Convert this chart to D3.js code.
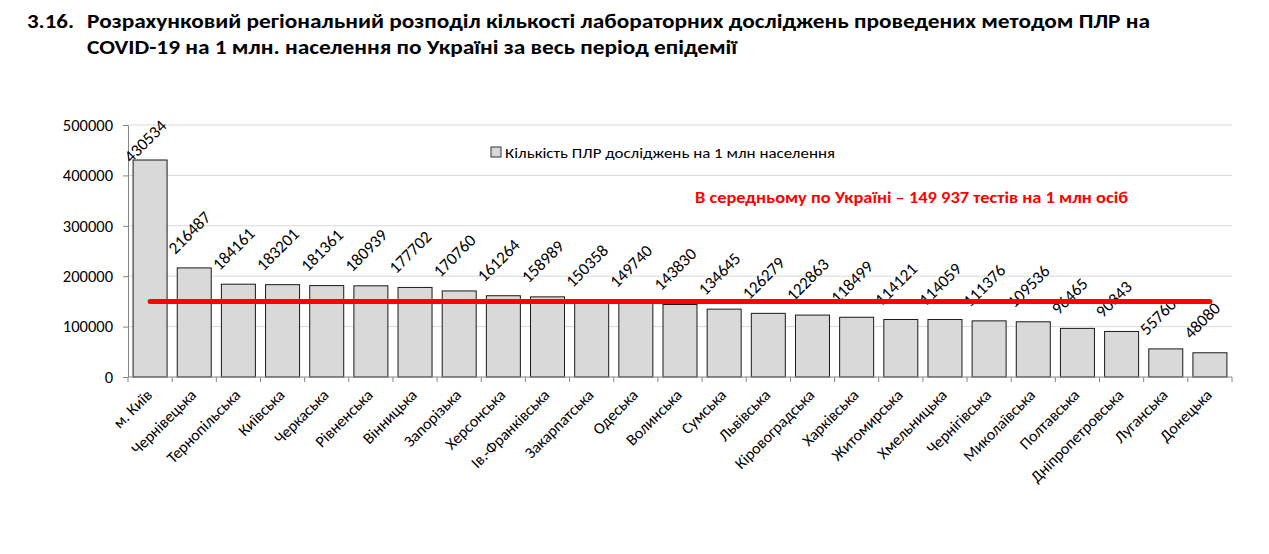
<!DOCTYPE html>
<html>
<head>
<meta charset="utf-8">
<script src="https://cdn.jsdelivr.net/npm/d3@7"></script>
<style>
  body { margin: 0; background: #fff; }
  text { font-family: Carlito, Roboto, "Liberation Sans", sans-serif; }
  .axis path, .axis line { stroke: #868686; }
  .axis text { fill: #000; }
</style>
</head>
<body>
<svg id="chart"></svg>
<script>
// Regions, ordered as in the source chart
const regions = ['м. Київ', 'Чернівецька', 'Тернопільська', 'Київська', 'Черкаська', 'Рівненська',
  'Вінницька', 'Запорізька', 'Херсонська', 'Ів.-Франківська', 'Закарпатська', 'Одеська', 'Волинська',
  'Сумська', 'Львівська', 'Кіровоградська', 'Харківська', 'Житомирська', 'Хмельницька', 'Чернігівська',
  'Миколаївська', 'Полтавська', 'Дніпропетровська', 'Луганська', 'Донецька'];

// PCR tests per 1 mln population
const testsPerMln = [430534, 216487, 184161, 183201, 181361, 180939, 177702, 170760, 161264, 158989,
  150358, 149740, 143830, 134645, 126279, 122863, 118499, 114121, 114059, 111376, 109536, 96465,
  90343, 55760, 48080];

const ukraineAverage = 149937;
const yTicks = [0, 100000, 200000, 300000, 400000, 500000];

const titleLines = ['Розрахунковий регіональний розподіл кількості лабораторних досліджень проведених методом ПЛР на',
  'COVID-19 на 1 млн. населення по Україні за весь період епідемії'];
const legendLabel = 'Кількість ПЛР досліджень на 1 млн населення';
const averageLabel = 'В середньому по Україні – 149 937 тестів на 1 млн осіб';

const config = {
  width: 1269,
  height: 554,
  margin: {top: 125, right: 37, bottom: 177, left: 128}
};

// Stretch a horizontal text to a given width (source text is rendered wide)
function fitWidth(sel, w) {
  sel.attr('textLength', w).attr('lengthAdjust', 'spacingAndGlyphs');
}

const svg = d3.select('#chart')
    .attr('width', config.width)
    .attr('height', config.height);

const width = config.width - config.margin.left - config.margin.right;
const height = config.height - config.margin.top - config.margin.bottom;

// Title
svg.append('text')
    .attr('x', 27).attr('y', 28)
    .attr('font-size', 20).attr('font-weight', 'bold').attr('fill', '#000')
    .text('3.16.')
    .call(fitWidth, 47);
const titleWidths = [1063, 650];
titleLines.forEach((t, i) => {
  svg.append('text')
      .attr('x', 87).attr('y', 28 + i * 26)
      .attr('font-size', 20).attr('font-weight', 'bold').attr('fill', '#000')
      .text(t)
      .call(fitWidth, titleWidths[i]);
});

const chart = svg.append('g')
    .attr('transform', `translate(${config.margin.left},${config.margin.top})`);

// Scales
const xScale = d3.scaleBand()
    .domain(regions)
    .range([0, width])
    .paddingInner(0.23)
    .paddingOuter(0.115);

const xCat = d3.scaleBand()
    .domain(regions)
    .range([0, width]);

const yScale = d3.scaleLinear()
    .domain([0, 500000])
    .range([height, 0]);

// Gridlines
chart.append('g')
    .selectAll('line')
    .data(yTicks.slice(1))
    .join('line')
    .attr('x1', 0).attr('x2', width)
    .attr('y1', d => yScale(d)).attr('y2', d => yScale(d))
    .attr('stroke', '#d9d9d9').attr('stroke-width', 1);

// Bars
chart.append('g')
    .selectAll('rect')
    .data(testsPerMln)
    .join('rect')
    .attr('x', (d, i) => xScale(regions[i]))
    .attr('y', d => yScale(d))
    .attr('width', xScale.bandwidth())
    .attr('height', d => height - yScale(d))
    .attr('fill', '#d9d9d9')
    .attr('stroke', '#1a1a1a')
    .attr('stroke-width', 1);

// Y axis
const yAxis = d3.axisLeft(yScale)
    .tickValues(yTicks)
    .tickFormat(d3.format('d'))
    .tickSize(5)
    .tickPadding(10)
    .tickSizeOuter(0);
chart.append('g')
    .attr('class', 'axis y-axis')
    .call(yAxis)
    .selectAll('text')
    .attr('font-size', 16.5);

// X axis: ticks at category boundaries, labels rotated
const xAxisG = chart.append('g')
    .attr('class', 'axis x-axis')
    .attr('transform', `translate(0,${height})`);
xAxisG.append('line')
    .attr('x1', 0).attr('x2', width)
    .attr('stroke', '#868686');
xAxisG.selectAll('.bound')
    .data(regions.concat(['end']))
    .join('line')
    .attr('class', 'bound')
    .attr('x1', (d, i) => i * xCat.step()).attr('x2', (d, i) => i * xCat.step())
    .attr('y1', 0).attr('y2', 5)
    .attr('stroke', '#868686');
xAxisG.selectAll('.cat-label')
    .data(regions)
    .join('text')
    .attr('class', 'cat-label')
    .attr('transform', d => `translate(${xCat(d) + xCat.bandwidth() / 2 + 3},${19}) rotate(-45)`)
    .attr('text-anchor', 'end')
    .attr('font-size', 16)
    .text(d => d);

// Value labels, rotated; kept inside the plot area
chart.append('g')
    .selectAll('text')
    .data(testsPerMln)
    .join('text')
    .attr('font-size', 17)
    .attr('fill', '#000')
    .text(d => d)
    .each(function(d, i) {
      const len = this.getComputedTextLength();
      const cx = xScale(regions[i]) + xScale.bandwidth() / 2;
      let y = yScale(d) - 13;
      const minY = len * Math.SQRT1_2 + 2;
      if (y < minY) y = minY;
      d3.select(this).attr('transform', `translate(${cx - 19},${y}) rotate(-45)`);
    });

// Average line across category centers
const avgLine = d3.line()
    .x(d => xCat(d) + xCat.bandwidth() / 2)
    .y(() => yScale(ukraineAverage));
chart.append('path')
    .datum(regions)
    .attr('d', avgLine)
    .attr('fill', 'none')
    .attr('stroke', '#ff0000')
    .attr('stroke-width', 5)
    .attr('stroke-linecap', 'round');

chart.append('text')
    .attr('x', 567).attr('y', 78)
    .attr('font-size', 16).attr('font-weight', 'bold')
    .attr('fill', '#ff0000')
    .text(averageLabel)
    .call(fitWidth, 433);

// Legend
const legend = svg.append('g')
    .attr('transform', 'translate(491,147)');
legend.append('rect')
    .attr('width', 10).attr('height', 10)
    .attr('fill', '#d9d9d9').attr('stroke', '#333');
legend.append('text')
    .attr('x', 14).attr('y', 10.5)
    .attr('font-size', 15)
    .text(legendLabel)
    .call(fitWidth, 330);
</script>
</body>
</html>
